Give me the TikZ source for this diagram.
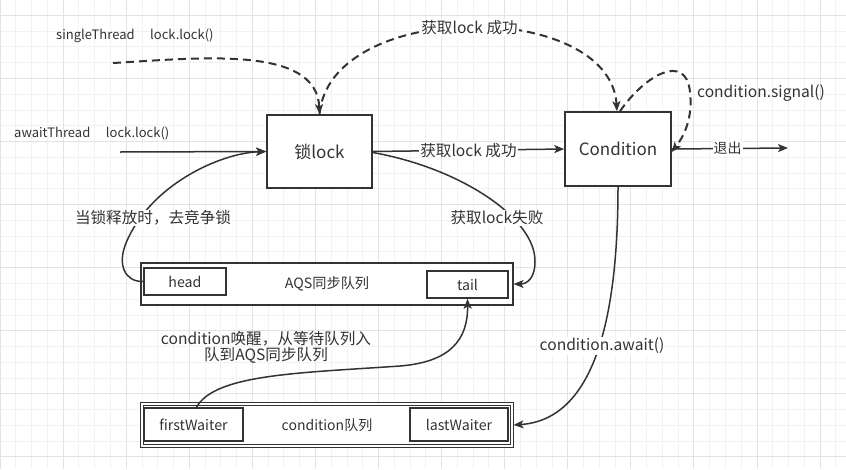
\documentclass[tikz,border=0pt]{standalone}
\usepackage{fontspec}
\setmainfont{Noto Sans CJK SC}
\usetikzlibrary{arrows.meta}
\definecolor{ink}{HTML}{333333}
\definecolor{gridminor}{HTML}{F2F2F2}
\definecolor{gridmajor}{HTML}{E3E3E3}
\tikzset{
  box/.style={draw=ink, line width=1.6pt, fill=white, text=ink, inner sep=0pt, font=\fontsize{17}{19}\selectfont},
  smallbox/.style={draw=ink, line width=1.6pt, fill=white, text=ink, inner sep=0pt, font=\fontsize{14.2}{16}\selectfont},
  queue/.style={draw=ink, line width=1.2pt, fill=white, text=ink, inner sep=0pt, font=\fontsize{14.2}{16}\selectfont},
  dqueue/.style={draw=ink, double=white, double distance=1.3pt, line width=1pt, fill=white, text=ink, inner sep=0pt, font=\fontsize{14}{16}\selectfont},
  thr/.style={text=ink, inner sep=1pt, font=\fontsize{13}{15}\selectfont},
  lbl/.style={text=ink, inner sep=1pt, font=\fontsize{15.6}{18}\selectfont},
  wlbl/.style={lbl, fill=white},
  tip/.style={-{Stealth[length=10pt,width=8pt,inset=2.5pt]}},
  conn/.style={draw=ink, line width=1.5pt, tip},
  dconn/.style={draw=ink, line width=2pt, dash pattern=on 8pt off 5pt, tip},
}
\begin{document}
\begin{tikzpicture}[x=1pt,y=-1pt]
\useasboundingbox (0,0) rectangle (846,469);
\fill[white] (0,0) rectangle (846,469);
% grid
\foreach \i in {0,...,54} {
  \pgfmathsetmacro{\gx}{\i*15.77}
  \draw[gridminor, line width=0.8pt] (\gx,0) -- (\gx,469);
}
\foreach \i in {0,...,30} {
  \pgfmathsetmacro{\gy}{-0.45+\i*15.77}
  \draw[gridminor, line width=0.8pt] (0,\gy) -- (846,\gy);
}
\foreach \i in {0,...,13} {
  \pgfmathsetmacro{\gx}{\i*63.08}
  \draw[gridmajor, line width=0.9pt] (\gx,0) -- (\gx,469);
}
\foreach \i in {0,...,7} {
  \pgfmathsetmacro{\gy}{15.3+\i*63.08}
  \draw[gridmajor, line width=0.9pt] (0,\gy) -- (846,\gy);
}
% main boxes
\node[box, minimum width=105pt, minimum height=73pt] (lock) at (319.5,151.5) {锁lock};
\node[box, minimum width=106pt, minimum height=74pt] (cond) at (618,149) {Condition};
% AQS queue
\node[queue, minimum width=372pt, minimum height=42pt] (aqs) at (327,284) {AQS同步队列};
\node[smallbox, minimum width=82pt, minimum height=27pt] (head) at (185,281.5) {head};
\node[smallbox, minimum width=81pt, minimum height=27pt] (tail) at (467.5,284.5) {tail};
% condition queue
\node[dqueue, minimum width=370pt, minimum height=42pt] (cq) at (327,425) {condition队列};
\node[smallbox, minimum width=99pt, minimum height=33pt] (first) at (193.5,424.5) {firstWaiter};
\node[smallbox, minimum width=98pt, minimum height=33pt] (last) at (459,424.5) {lastWaiter};
% free ends
\coordinate (sstart) at (113,63);
\coordinate (astart) at (120,152);
\coordinate (exitend) at (788,148);
% texts
\node[thr, anchor=west] (stxt) at (55,36) {singleThread\hspace{1.2em}lock.lock()};
\node[thr, anchor=west] (atxt) at (13,133) {awaitThread\hspace{1.2em}lock.lock()};
% connectors
\draw[dconn] (sstart) .. controls (200,58) and (317,45) .. (lock.north);
\draw[dconn] (lock.north) .. controls (330,-1) and (610,-1) .. ([xshift=-1pt]cond.north)
  node[wlbl, pos=0.5] (l1) {获取lock 成功};
\draw[conn] (astart) -- (lock.west);
\draw[conn] (lock.east) -- (cond.west) node[wlbl, midway] (l2) {获取lock 成功};
\draw[dconn] ([xshift=2pt]cond.north) .. controls (645,75) and (686,52) .. (690,92)
  .. controls (693,118) and (684,136) .. ([yshift=-3pt]cond.east);
\node[lbl] (sig) at (761,93) {condition.signal()};
\draw[conn] (cond.east) -- (exitend) node[wlbl, pos=0.48, font=\fontsize{14}{16}\selectfont] (l3) {退出};
\draw[conn] ([yshift=-1pt]lock.east) .. controls (460,168) and (536,218) .. (535,262)
  .. controls (535,278) and (527,284) .. (aqs.east);
\node[wlbl] (l4) at (497,218) {获取lock失败};
\draw[conn] (head.west) .. controls (125,282) and (117,265) .. (126,243)
  .. controls (150,185) and (220,153) .. (lock.west);
\node[wlbl] (l5) at (153,218) {当锁释放时，去竞争锁};
\draw[conn] ([xshift=3pt]first.north) .. controls (215,374) and (300,373) .. (400,366)
  .. controls (450,362) and (468,340) .. (tail.south);
\node[lbl, align=center] (l6) at (266,347) {condition唤醒，从等待队列入\\[-2pt]队到AQS同步队列};
\draw[conn] (cond.south) .. controls (618,330) and (590,420) .. ([xshift=1pt]cq.east);
\node[wlbl] (l7) at (602,346) {condition.await()};
\end{tikzpicture}
\end{document}
